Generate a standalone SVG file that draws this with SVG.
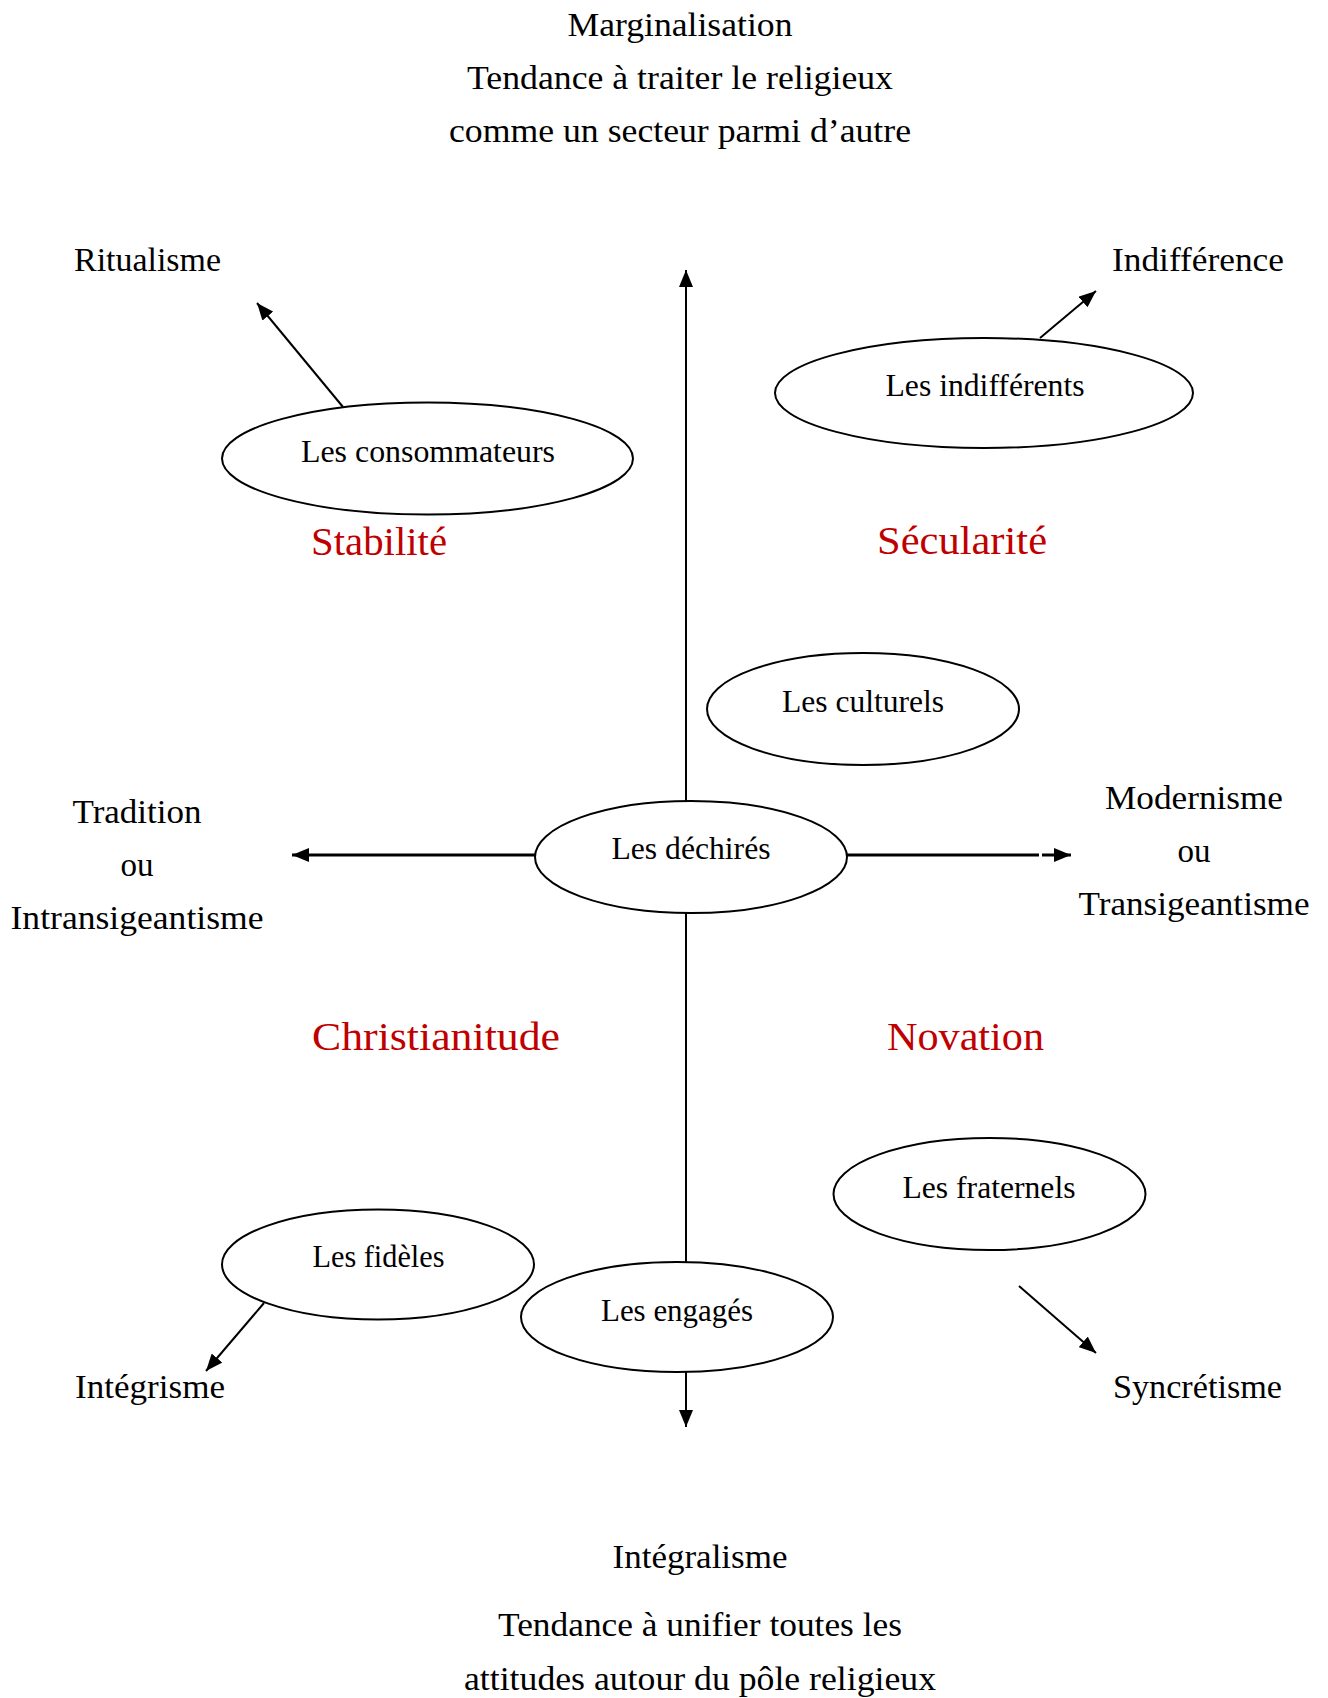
<svg xmlns="http://www.w3.org/2000/svg" width="1328" height="1698" viewBox="0 0 1328 1698">
<style>
.t{font-family:"Liberation Serif","Times New Roman",serif;font-size:33px;fill:#000}
.n{font-family:"Liberation Serif","Times New Roman",serif;font-size:31px;fill:#000;text-anchor:middle}
.r{font-family:"Liberation Serif","Times New Roman",serif;font-size:41px;fill:#c00000}
.m{text-anchor:middle}
.e{fill:#fff;stroke:#000;stroke-width:2}
.c{stroke:#000;stroke-width:2;fill:none}
.h{stroke:#000;stroke-width:3;fill:none}
</style>
<defs>
<marker id="ah" markerUnits="userSpaceOnUse" markerWidth="18" markerHeight="14" refX="17" refY="7" orient="auto">
<path d="M0,0 L17,7 L0,14 z" fill="#000"/>
</marker>
</defs>
<rect width="1328" height="1698" fill="#fff"/>

<g id="labels">
<text class="t m" x="680" y="36" textLength="225" lengthAdjust="spacingAndGlyphs">Marginalisation</text>
<text class="t m" x="680" y="89" textLength="426" lengthAdjust="spacingAndGlyphs">Tendance à traiter le religieux</text>
<text class="t m" x="680" y="142" textLength="462" lengthAdjust="spacingAndGlyphs">comme un secteur parmi d’autre</text>
<text class="t" x="74" y="271" textLength="147" lengthAdjust="spacingAndGlyphs">Ritualisme</text>
<text class="t" x="1112" y="271" textLength="172" lengthAdjust="spacingAndGlyphs">Indifférence</text>
<text class="r" x="311" y="555" textLength="136" lengthAdjust="spacingAndGlyphs">Stabilité</text>
<text class="r" x="877" y="554" textLength="170" lengthAdjust="spacingAndGlyphs">Sécularité</text>
<text class="t m" x="137" y="823" textLength="129" lengthAdjust="spacingAndGlyphs">Tradition</text>
<text class="t m" x="137" y="876">ou</text>
<text class="t m" x="137" y="929" textLength="253" lengthAdjust="spacingAndGlyphs">Intransigeantisme</text>
<text class="t m" x="1194" y="809" textLength="178" lengthAdjust="spacingAndGlyphs">Modernisme</text>
<text class="t m" x="1194" y="862">ou</text>
<text class="t m" x="1194" y="915" textLength="231" lengthAdjust="spacingAndGlyphs">Transigeantisme</text>
<text class="r" x="312" y="1050" textLength="248" lengthAdjust="spacingAndGlyphs">Christianitude</text>
<text class="r" x="887" y="1050" textLength="157" lengthAdjust="spacingAndGlyphs">Novation</text>
<text class="t" x="75" y="1398" textLength="150" lengthAdjust="spacingAndGlyphs">Intégrisme</text>
<text class="t" x="1113" y="1398" textLength="169" lengthAdjust="spacingAndGlyphs">Syncrétisme</text>
<text class="t m" x="700" y="1568" textLength="175" lengthAdjust="spacingAndGlyphs">Intégralisme</text>
<text class="t m" x="700" y="1636" textLength="404" lengthAdjust="spacingAndGlyphs">Tendance à unifier toutes les</text>
<text class="t m" x="700" y="1690" textLength="472" lengthAdjust="spacingAndGlyphs">attitudes autour du pôle religieux</text>
</g>

<g id="connectors">
<line class="c" x1="686" y1="801" x2="686" y2="270" marker-end="url(#ah)"/>
<line class="c" x1="686" y1="913" x2="686" y2="1262"/>
<line class="c" x1="686" y1="1372" x2="686" y2="1427" marker-end="url(#ah)"/>
<line class="h" x1="535" y1="855" x2="292" y2="855" marker-end="url(#ah)"/>
<line class="h" x1="847" y1="855" x2="1039" y2="855"/>
<line class="h" x1="1042" y1="855" x2="1071" y2="855" marker-end="url(#ah)"/>
<line class="c" x1="343" y1="407" x2="257" y2="303" marker-end="url(#ah)"/>
<line class="c" x1="1040" y1="338" x2="1096" y2="291" marker-end="url(#ah)"/>
<line class="c" x1="264" y1="1303" x2="206" y2="1371" marker-end="url(#ah)"/>
<line class="c" x1="1019" y1="1286" x2="1096" y2="1353" marker-end="url(#ah)"/>
</g>

<g id="node-consommateurs">
<ellipse class="e" cx="427.5" cy="458.5" rx="205.5" ry="56"/>
<text class="n" x="428" y="462" textLength="254" lengthAdjust="spacingAndGlyphs">Les consommateurs</text>
</g>
<g id="node-indifferents">
<ellipse class="e" cx="984" cy="393" rx="209" ry="55"/>
<text class="n" x="985" y="396" textLength="199" lengthAdjust="spacingAndGlyphs">Les indifférents</text>
</g>
<g id="node-culturels">
<ellipse class="e" cx="863" cy="709" rx="156" ry="56"/>
<text class="n" x="863" y="712" textLength="162" lengthAdjust="spacingAndGlyphs">Les culturels</text>
</g>
<g id="node-dechires">
<ellipse class="e" cx="691" cy="857" rx="156" ry="56"/>
<text class="n" x="691" y="859" textLength="159" lengthAdjust="spacingAndGlyphs">Les déchirés</text>
</g>
<g id="node-fraternels">
<ellipse class="e" cx="989.5" cy="1194" rx="156" ry="56"/>
<text class="n" x="989" y="1198" textLength="173" lengthAdjust="spacingAndGlyphs">Les fraternels</text>
</g>
<g id="node-fideles">
<ellipse class="e" cx="378" cy="1264.5" rx="156" ry="55"/>
<text class="n" x="378.5" y="1267" textLength="132" lengthAdjust="spacingAndGlyphs">Les fidèles</text>
</g>
<g id="node-engages">
<ellipse class="e" cx="677" cy="1317" rx="156" ry="55"/>
<text class="n" x="677" y="1321" textLength="152" lengthAdjust="spacingAndGlyphs">Les engagés</text>
</g>
</svg>
